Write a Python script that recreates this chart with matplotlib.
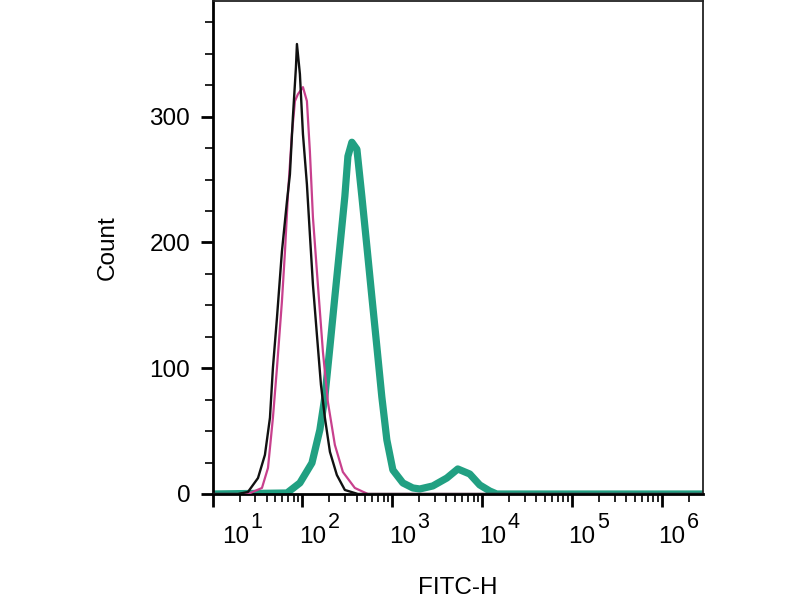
import numpy as np
import matplotlib
matplotlib.use("Agg")
import matplotlib.pyplot as plt
from matplotlib.ticker import LogLocator, MultipleLocator, FixedLocator, NullFormatter
import matplotlib.transforms as mtransforms

plt.rcParams['font.family'] = ['Liberation Sans', 'DejaVu Sans']

# ---- data (x as log10 FITC-H, y as count) ----
black_log = [1.0, 1.283, 1.394, 1.506, 1.583, 1.639, 1.672, 1.717, 1.772, 1.828,
             1.861, 1.894, 1.928, 1.939, 1.972, 2.006, 2.050, 2.083, 2.117, 2.161,
             2.206, 2.250, 2.306, 2.383, 2.472, 2.617, 6.45]
black_cnt = [0, 0, 1.6, 12.7, 31.1, 60.6, 100.4, 140.2, 192.8, 232.7,
             254.2, 299.6, 339.4, 357.8, 333.9, 286.1, 246.2, 206.4, 166.5, 126.7,
             86.9, 60.6, 33.5, 15.1, 3.2, 0, 0]

magenta_log = [1.0, 1.394, 1.550, 1.617, 1.672, 1.717, 1.772, 1.806, 1.839, 1.883,
               1.917, 1.950, 2.006, 2.050, 2.083, 2.117, 2.172, 2.228, 2.283, 2.361,
               2.450, 2.583, 2.728, 6.45]
magenta_cnt = [0, 0, 4.8, 20.7, 60.6, 100.4, 153.0, 192.8, 238.2, 286.1,
               312.4, 317.9, 323.5, 312.4, 272.5, 219.9, 166.5, 113.1, 73.3, 39.0,
               17.5, 4.8, 0, 0]

green_log = [1.0, 1.828, 1.972, 2.106, 2.194, 2.250, 2.306, 2.361, 2.417, 2.472,
             2.506, 2.550, 2.606, 2.661, 2.717, 2.772, 2.828, 2.883, 2.939, 3.006,
             3.117, 3.228, 3.306, 3.450, 3.606, 3.728, 3.861, 3.972, 4.083, 4.161,
             6.45]
green_cnt = [0, 0.8, 8.8, 24.7, 51.0, 77.3, 117.1, 157.0, 196.8, 236.7,
             268.5, 279.7, 274.1, 236.7, 196.8, 157.0, 117.1, 77.3, 43.0, 19.1,
             8.8, 4.8, 4.0, 6.4, 12.7, 19.9, 15.9, 7.2, 2.4, 0,
             0]

x_decades = [1, 2, 3, 4, 5, 6]
y_major = [0, 100, 200, 300]

fig = plt.figure(figsize=(8, 6), dpi=100)
ax = fig.add_axes([212.5 / 800, 1 - 494 / 600, (703 - 212.5) / 800, (494 - 1) / 600])

ax.plot(10 ** np.array(green_log), green_cnt, color='#21a082', lw=5.2,
        solid_joinstyle='round', solid_capstyle='round', zorder=2)
ax.plot(10 ** np.array(magenta_log), magenta_cnt, color='#c8408d', lw=1.6, zorder=3)
ax.plot(10 ** np.array(black_log), black_cnt, color='#111111', lw=1.7, zorder=4)

ax.set_xscale('log')
ax.set_xlim(10 ** 1.0, 10 ** 6.455)
ax.set_ylim(0, 392)

ax.xaxis.set_major_locator(FixedLocator([10.0 ** d for d in x_decades]))
ax.xaxis.set_minor_locator(LogLocator(base=10, subs=np.arange(2, 10)))
ax.xaxis.set_minor_formatter(NullFormatter())
ax.set_xticklabels(['10' for d in x_decades])

ax.yaxis.set_major_locator(FixedLocator(y_major))
ax.yaxis.set_minor_locator(MultipleLocator(25))

ax.tick_params(axis='both', which='major', direction='out', length=9, width=2.0,
               labelsize=17.5, color='black')
ax.tick_params(axis='both', which='minor', direction='out', length=5.5, width=1.2, color='black')
ax.tick_params(axis='x', which='major', pad=14)
ax.tick_params(axis='y', which='major', pad=7)

# shift decade labels to the right of their ticks (as in the reference) and add exponents
base_tr = mtransforms.blended_transform_factory(ax.transData, ax.transAxes)
for i, (lab, d) in enumerate(zip(ax.get_xticklabels(), x_decades)):
    extra = 0.13 if i == 0 else 0.0
    lab.set_transform(lab.get_transform() +
                      mtransforms.ScaledTranslation(0.10 + extra, 0, fig.dpi_scale_trans))
    ax.text(10.0 ** d, 0, str(d), fontsize=15.5, ha='left', va='top', clip_on=False,
            transform=base_tr + mtransforms.ScaledTranslation(0.25 + extra, -0.185,
                                                              fig.dpi_scale_trans))

for s in ['left', 'bottom']:
    ax.spines[s].set_linewidth(2.0)
for s in ['top', 'right']:
    ax.spines[s].set_linewidth(1.3)
    ax.spines[s].set_color('#222222')

ax.set_xlabel('FITC-H', fontsize=17.5, labelpad=21)
ax.set_ylabel('Count', fontsize=17.5, labelpad=22)

fig.savefig('out.png', dpi=100)
